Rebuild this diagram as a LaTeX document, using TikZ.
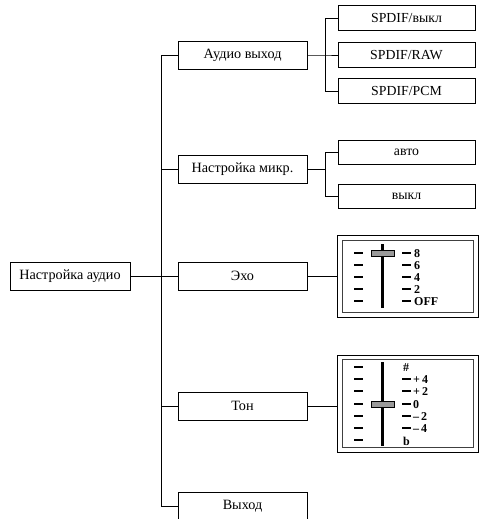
\documentclass[tikz,border=0pt]{standalone}
\usepackage{fontspec}
\setmainfont{Liberation Serif}
\usetikzlibrary{positioning,calc}

\tikzset{
  menubox/.style={draw, line width=0.8pt, minimum width=129pt, minimum height=28pt, inner sep=0pt, font=\fontsize{14.2}{16}\selectfont},
  subbox/.style={draw, line width=0.8pt, minimum width=137pt, minimum height=24pt, inner sep=0pt, font=\fontsize{13.8}{16}\selectfont},
  sliderbox/.style={draw, line width=0.8pt, minimum width=141pt, inner sep=0pt},
  wire/.style={line width=0.8pt},
  tick/.style={line width=2pt},
  lvl/.style={font=\fontsize{12}{12}\selectfont\bfseries, anchor=west, inner sep=0pt}
}

\begin{document}
\begin{tikzpicture}[x=1pt, y=-1pt]
\useasboundingbox (0,0) rectangle (481,519);
% Main menu tree
\node[menubox, minimum width=120pt] (root) at (70,276) {Настройка аудио};
\node[menubox] (audio) at (242.5,55) {Аудио выход};
\node[menubox] (mic) at (242.5,169) {Настройка микр.};
\node[menubox] (echo) at (242.5,276) {Эхо};
\node[menubox] (tone) at (242.5,406) {Тон};
\node[menubox] (exit) at (242.5,506) {Выход};
\draw[wire] (audio.west) -- ++(-16,0) coordinate (trunk) |- (exit.west);
\foreach \n in {mic,echo,tone} {
    \draw[wire] (\n.west) -- (\n.west -| trunk);
}
\draw[wire] (root.east) -- (root.east -| trunk);
% Audio output options
\node[subbox, minimum height=25pt] (spoff) at (406.5,18) {SPDIF/выкл};
\node[subbox, minimum height=25pt] (spraw) at (406.5,55) {SPDIF/RAW};
\node[subbox, minimum height=25pt] (sppcm) at (406.5,91) {SPDIF/PCM};
\draw[wire] (audio.east) -- ++(18,0) coordinate (fork1) -- (spraw.west);
\draw[wire] (spoff.west) -| (fork1) |- (sppcm.west);
% Microphone options
\node[subbox] (auto) at (406.5,152) {авто};
\node[subbox] (off) at (406.5,196) {выкл};
\draw[wire] (mic.east) -- ++(18,0) coordinate (fork2);
\draw[wire] (auto.west) -| (fork2) |- (off.west);
% Echo slider
\node[sliderbox, minimum height=82pt] (echosl) at (407.5,276) {};
\draw[line width=1.4pt, black!75] ($(echosl.north west)+(6,6)$) rectangle ($(echosl.south east)+(-5,-5)$);
\draw[wire] (echo.east) -- (echosl.west);
\begin{scope}[shift={(echosl.center)}]
\draw[line width=3pt] (-25.5,-32) -- (-25.5,32);
\foreach \lab [count=\i from 0] in {8,6,4,2,OFF} {
    \draw[tick] (-53.5,-23+12*\i) -- (-44.5,-23+12*\i);
    \draw[tick] (-5.5,-23+12*\i) -- (3.5,-23+12*\i);
    \node[lvl] at (6.5,-22.5+12*\i) {\lab};
}
\draw[fill=gray!80, line width=0.6pt] (-36.5,-25.5) rectangle (-13.5,-19.5);
\end{scope}
% Tone slider
\node[sliderbox, minimum height=97pt] (tonesl) at (407.5,403.5) {};
\draw[line width=1.4pt, black!75] ($(tonesl.north west)+(6,5)$) rectangle ($(tonesl.south east)+(-5,-5)$);
\draw[wire] (tone.east) -- (tone.east -| tonesl.west);
\begin{scope}[shift={(tonesl.center)}]
\draw[line width=3pt] (-25.5,-41.5) -- (-25.5,42.5);
\foreach \i in {0,...,6} {
    \draw[tick] (-53.5,-36.5+12.2*\i) -- (-44.5,-36.5+12.2*\i);
}
\foreach \lab [count=\i from 1] in {+\,4,+\,2,0,–\,2,–\,4} {
    \draw[tick] (-5.5,-36.5+12.2*\i) -- (3.5,-36.5+12.2*\i);
    \node[lvl] at (5.5,-36+12.2*\i) {\lab};
}
\node[lvl] at (-4.5,-36) {\#};
\node[lvl] at (-4.5,37.5) {b};
\draw[fill=gray!80, line width=0.6pt] (-36.5,-2.5) rectangle (-13.5,3.5);
\end{scope}
\end{tikzpicture}
\end{document}
